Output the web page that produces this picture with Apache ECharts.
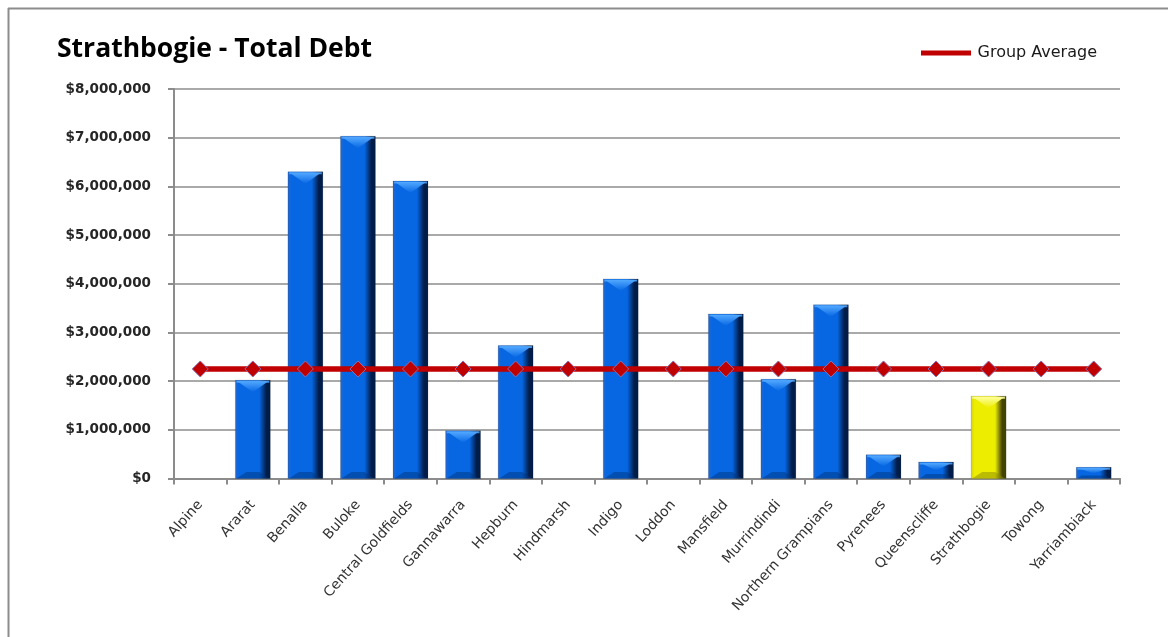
<!DOCTYPE html>
<html>
<head>
<meta charset="utf-8">
<script src="https://cdn.jsdelivr.net/npm/echarts@6/dist/echarts.min.js"></script>
<style>
  html, body { margin: 0; padding: 0; background: #ffffff; }
  #chart { width: 1168px; height: 637px; }
</style>
</head>
<body>
<div id="chart"></div>
<script>
// Councils in the comparison group
var councils = ['Alpine', 'Ararat', 'Benalla', 'Buloke', 'Central Goldfields', 'Gannawarra',
  'Hepburn', 'Hindmarsh', 'Indigo', 'Loddon', 'Mansfield', 'Murrindindi',
  'Northern Grampians', 'Pyrenees', 'Queenscliffe', 'Strathbogie', 'Towong', 'Yarriambiack'];

// Total debt per council ($)
var totalDebt = [0, 2020000, 6300000, 7030000, 6110000, 980000,
  2730000, 0, 4100000, 0, 3380000, 2040000,
  3570000, 490000, 340000, 1690000, 0, 230000];

// Group average debt ($)
var groupAverage = [2250000, 2250000, 2250000, 2250000, 2250000, 2250000,
  2250000, 2250000, 2250000, 2250000, 2250000, 2250000,
  2250000, 2250000, 2250000, 2250000, 2250000, 2250000];

// Value axis ticks
var yTicks = [0, 1000000, 2000000, 3000000, 4000000, 5000000, 6000000, 7000000, 8000000];

var focusCouncil = 'Strathbogie';

var palettes = {
  normal: { body: '#0767e3', left: '#2a66c4', right: '#001c48', top: '#52a8ff', bottom: '#003580' },
  focus:  { body: '#eded00', left: '#cfcf10', right: '#444400', top: '#ffff9a', bottom: '#8a8a00' }
};

function money(v) {
  return '$' + Math.round(v).toString().replace(/\B(?=(\d{3})+(?!\d))/g, ',');
}

// Bevelled column drawn from the category/value scales
function renderBar(params, api) {
  var idx = api.value(0);
  var val = api.value(1);
  if (!val) return null;
  var topPt = api.coord([idx, val]);
  var basePt = api.coord([idx, 0]);
  var w = api.size([1, 0])[0] * 0.665;
  var x0 = topPt[0] - w / 2;
  var y0 = topPt[1];
  var h = basePt[1] - y0;
  var b = Math.min(11, h * 0.45);
  var p = councils[idx] === focusCouncil ? palettes.focus : palettes.normal;
  return {
    type: 'group',
    children: [
      {
        type: 'rect',
        shape: { x: x0, y: y0, width: w, height: h },
        style: {
          fill: {
            type: 'linear', x: 0, y: 0, x2: 1, y2: 0,
            colorStops: [
              { offset: 0, color: p.left },
              { offset: 0.1, color: p.body },
              { offset: 0.68, color: p.body },
              { offset: 0.88, color: p.right },
              { offset: 1, color: p.right }
            ]
          },
          stroke: 'rgba(0,0,0,0.22)',
          lineWidth: 0.6
        }
      },
      {
        // light rim along the top edge
        type: 'rect',
        shape: { x: x0 + 1, y: y0 + 0.5, width: w - 2, height: Math.min(2, h / 4) },
        style: { fill: p.top, opacity: 0.8 }
      },
      {
        // top bevel chevron
        type: 'polygon',
        shape: { points: [[x0 + 2, y0 + 1], [x0 + w - 2, y0 + 1], [x0 + w / 2, y0 + b + 1]] },
        style: {
          fill: {
            type: 'linear', x: 0, y: 0, x2: 0, y2: 1,
            colorStops: [
              { offset: 0, color: p.top },
              { offset: 1, color: p.body }
            ]
          }
        }
      },
      {
        // bottom bevel shade
        type: 'polygon',
        shape: { points: [[x0 + 1, y0 + h], [x0 + b, y0 + h - b * 0.6], [x0 + w - b, y0 + h - b * 0.6], [x0 + w - 1, y0 + h]] },
        style: { fill: p.bottom, opacity: 0.5 }
      }
    ]
  };
}

var barData = totalDebt.map(function (v, i) { return [i, v]; });

var chart = echarts.init(document.getElementById('chart'), null, { renderer: 'canvas' });

chart.setOption({
  backgroundColor: '#ffffff',
  animation: false,
  graphic: [
    { type: 'line', shape: { x1: 8, y1: 8.5, x2: 1168, y2: 8.5 }, style: { stroke: '#8c8c8c', lineWidth: 2 } },
    { type: 'line', shape: { x1: 8.5, y1: 8, x2: 8.5, y2: 637 }, style: { stroke: '#8c8c8c', lineWidth: 2 } }
  ],
  title: {
    text: 'Strathbogie - Total Debt',
    left: 52,
    top: 31,
    textStyle: { fontFamily: 'Open Sans', fontWeight: 'bold', fontSize: 26.5, color: '#000000' }
  },
  legend: {
    data: [{ name: 'Group Average', icon: 'path://M0,0 H60 V6 H0 Z' }],
    right: 66,
    top: 40,
    itemWidth: 57,
    itemHeight: 5,
    itemStyle: { color: '#c00000', borderWidth: 0 },
    textStyle: { fontFamily: 'DejaVu Sans', fontSize: 16, color: '#1a1a1a', padding: [0, 0, 0, -2] }
  },
  grid: { left: 174, right: 48, top: 89, bottom: 158.5, containLabel: false },
  xAxis: {
    type: 'category',
    data: councils,
    boundaryGap: true,
    axisLine: { lineStyle: { color: '#8c8c8c', width: 2 } },
    axisTick: { show: true, alignWithLabel: false, length: 6, lineStyle: { color: '#8c8c8c', width: 2 } },
    axisLabel: {
      interval: 0,
      rotate: 48,
      margin: 24,
      fontFamily: 'DejaVu Sans',
      fontSize: 14,
      color: '#333333'
    }
  },
  yAxis: {
    type: 'value',
    min: yTicks[0],
    max: yTicks[yTicks.length - 1],
    interval: yTicks[1] - yTicks[0],
    axisLine: { show: true, lineStyle: { color: '#8c8c8c', width: 2 } },
    axisTick: { show: true, length: 6, lineStyle: { color: '#8c8c8c', width: 2 } },
    splitLine: { show: true, lineStyle: { color: '#8c8c8c', width: 1.5 } },
    axisLabel: {
      margin: 23,
      fontFamily: 'DejaVu Sans',
      fontWeight: 'bold',
      fontSize: 13.5,
      color: '#262626',
      formatter: money
    }
  },
  series: [
    {
      name: 'Total Debt',
      type: 'custom',
      renderItem: renderBar,
      data: barData,
      encode: { x: 0, y: 1 },
      z: 2
    },
    {
      name: 'Group Average',
      type: 'line',
      data: groupAverage,
      symbol: 'diamond',
      symbolSize: 16,
      lineStyle: { color: '#c00000', width: 5.5 },
      itemStyle: { color: '#c00000', borderColor: '#8a6fb0', borderWidth: 1 },
      z: 5
    }
  ]
});
</script>
</body>
</html>
